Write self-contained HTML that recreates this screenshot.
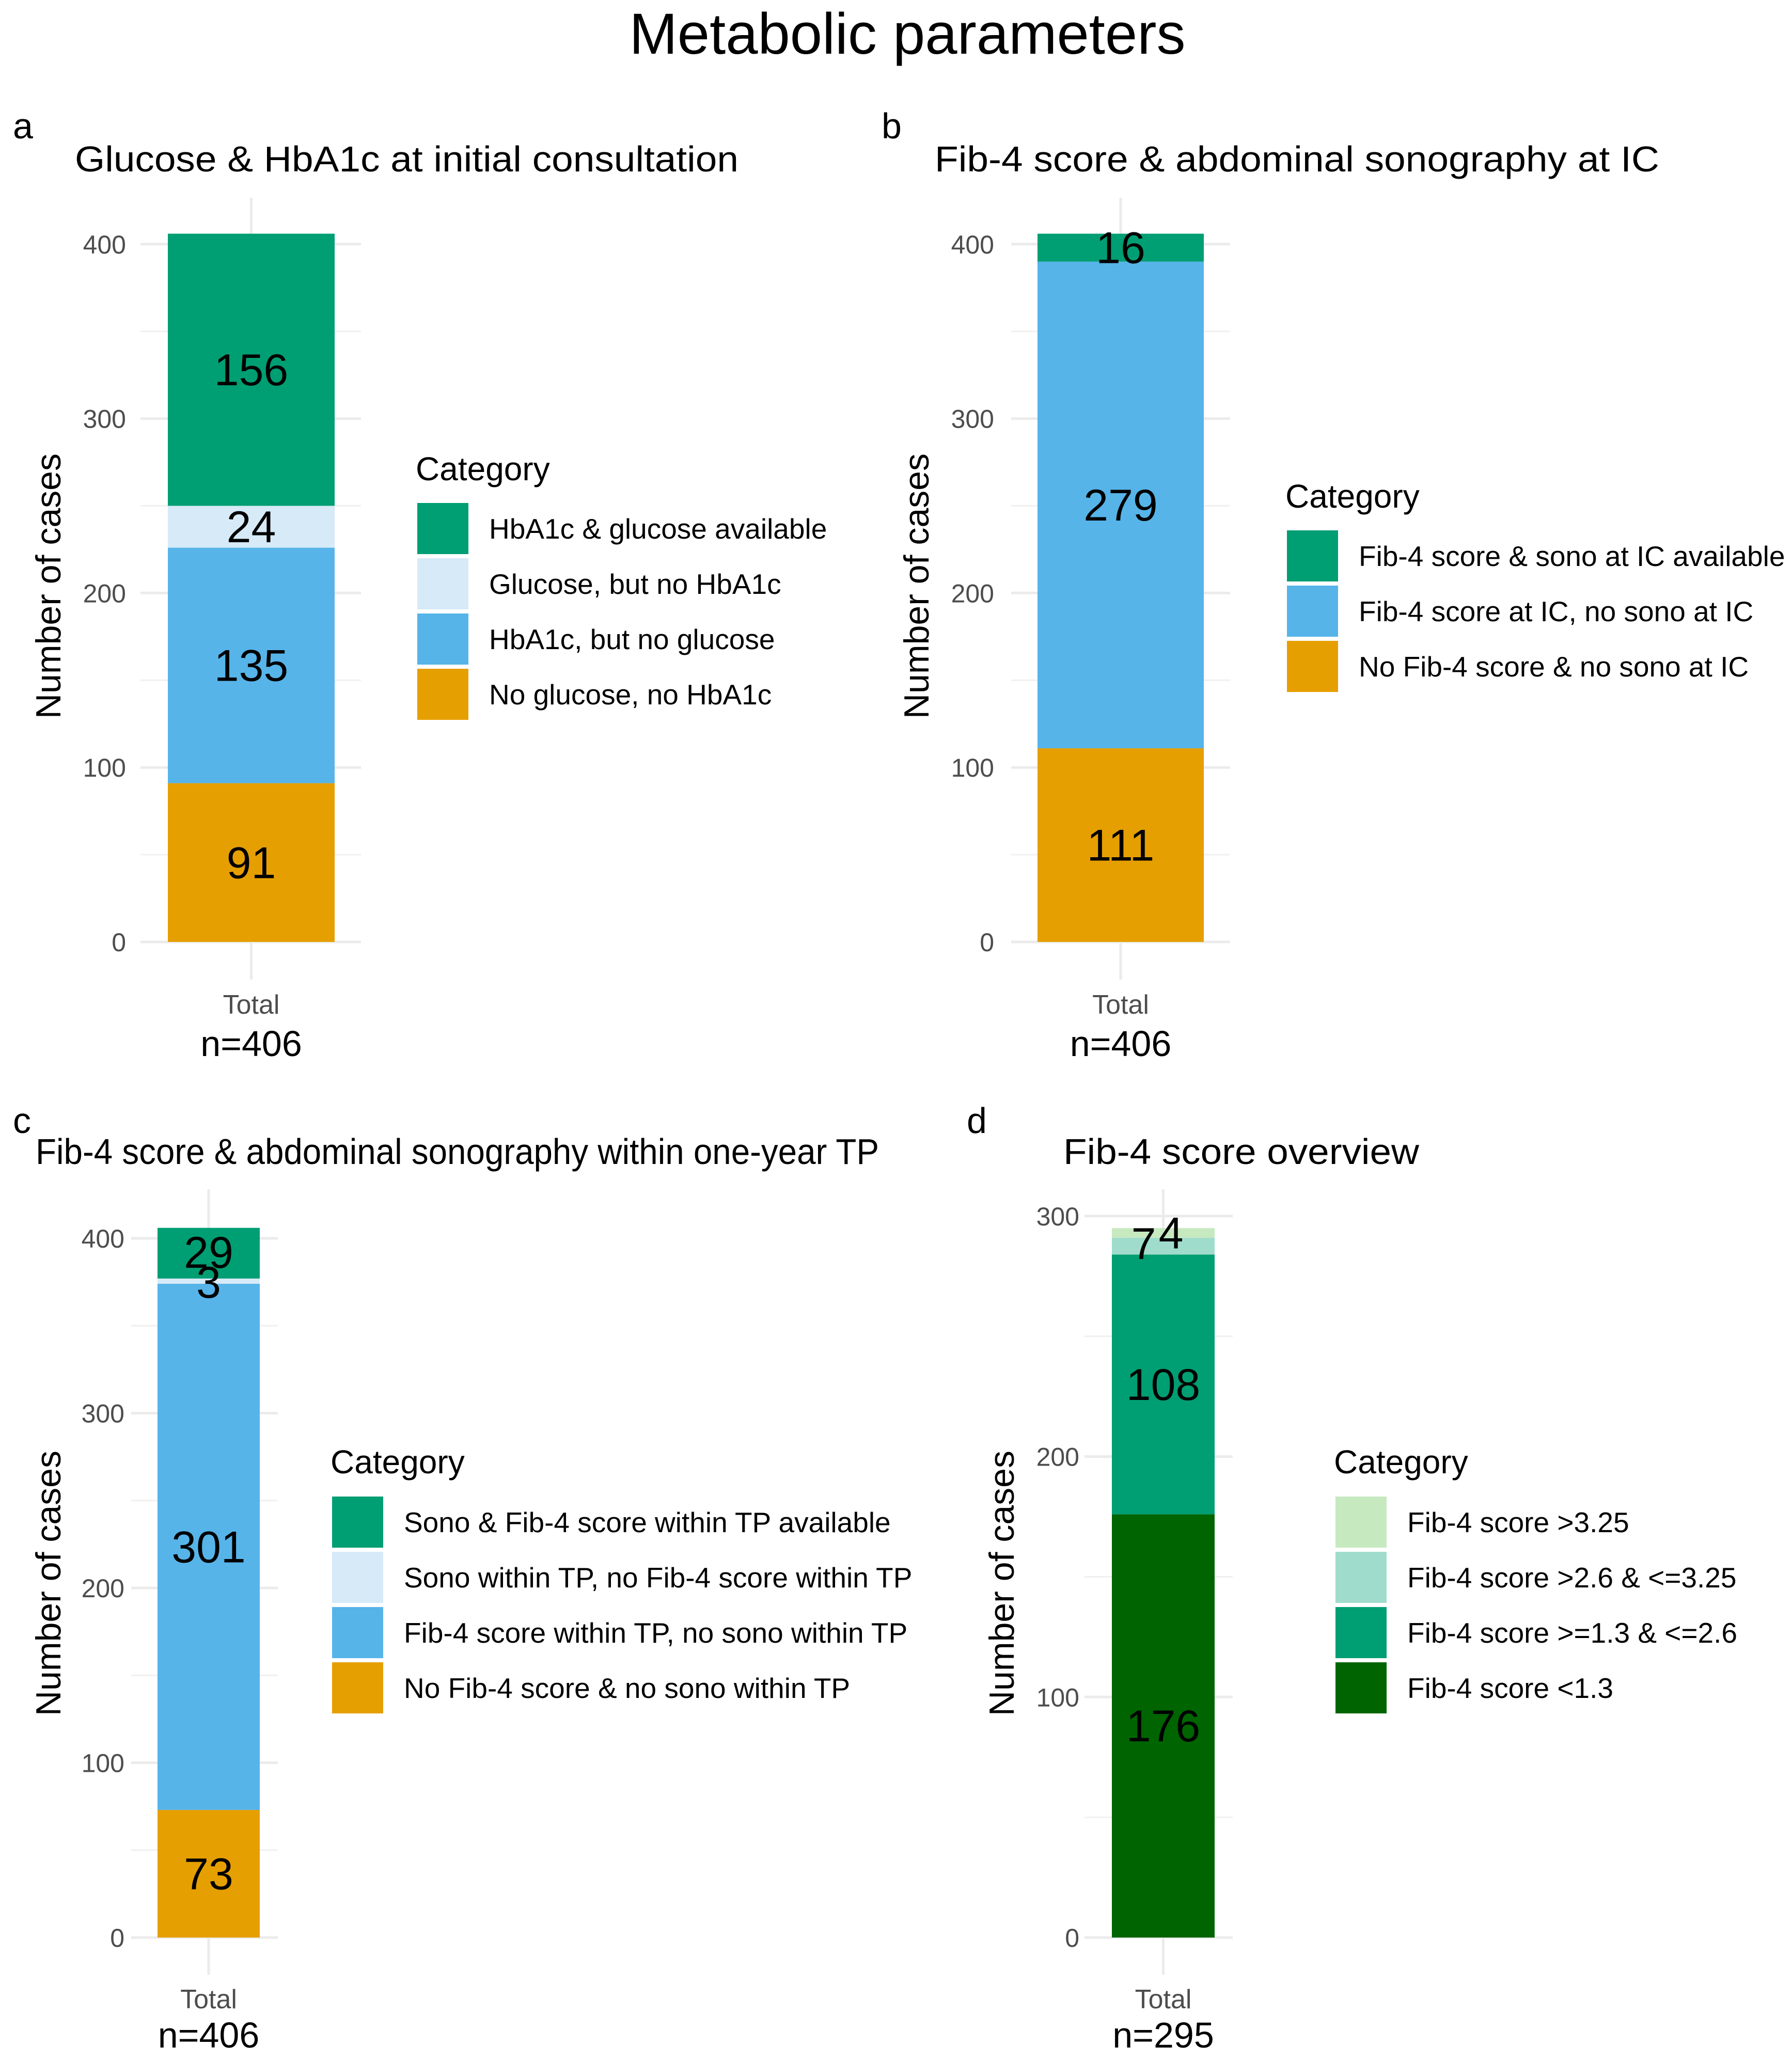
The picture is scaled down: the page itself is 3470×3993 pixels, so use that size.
<!DOCTYPE html>
<html><head><meta charset="utf-8"><style>
html,body{margin:0;padding:0;background:#fff}
svg{display:block;font-family:"Liberation Sans",sans-serif}
</style></head><body>
<svg id="fig" width="3470" height="3993" viewBox="0 0 3470 3993" xmlns="http://www.w3.org/2000/svg">
<rect width="3470" height="3993" fill="#fff"/>
<text x="1757" y="104" font-size="112" text-anchor="middle" textLength="1077">Metabolic parameters</text>
</svg>
<script>
// Panel a data
const aCats = ["No glucose, no HbA1c","HbA1c, but no glucose","Glucose, but no HbA1c","HbA1c & glucose available"];
const aVals = [91,135,24,156];
const aCols = ["#E69F00","#56B4E9","#D6EAF8","#009E73"];
// Panel b data
const bCats = ["No Fib-4 score & no sono at IC","Fib-4 score at IC, no sono at IC","Fib-4 score & sono at IC available"];
const bVals = [111,279,16];
const bCols = ["#E69F00","#56B4E9","#009E73"];
// Panel c data
const cCats = ["No Fib-4 score & no sono within TP","Fib-4 score within TP, no sono within TP","Sono within TP, no Fib-4 score within TP","Sono & Fib-4 score within TP available"];
const cVals = [73,301,3,29];
const cCols = ["#E69F00","#56B4E9","#D6EAF8","#009E73"];
// Panel d data
const dCats = ["Fib-4 score <1.3","Fib-4 score >=1.3 & <=2.6","Fib-4 score >2.6 & <=3.25","Fib-4 score >3.25"];
const dVals = [176,108,7,4];
const dCols = ["#006400","#009E73","#A0DCCB","#C7E9C0"];
const abTicks = [0,100,200,300,400];
const cTicks = [0,100,200,300,400];
const dTicks = [0,100,200,300];

const NS="http://www.w3.org/2000/svg";
const svg=document.getElementById('fig');
function mk(tag,attrs,parent){const e=document.createElementNS(NS,tag);for(const k in attrs)e.setAttribute(k,attrs[k]);(parent||svg).appendChild(e);return e;}

function panel(p){
  const g=mk('g',{});
  
  
  const y=v=>p.y0-(v-0)*p.ppu;
  const cx=(p.barL+p.barR)/2;
  for(let i=0;i<p.ticks.length;i++){
    const t=p.ticks[i]+50;
    if(t<=p.gridMax){const l=mk('line',{x1:p.gL,x2:p.gR,y1:y(t),y2:y(t),stroke:'#f0f0f0','stroke-width':3},g);
      }
  }
  for(const t of p.ticks){
    const l=mk('line',{x1:p.gL,x2:p.gR,y1:y(t),y2:y(t),stroke:'#ebebeb','stroke-width':5},g);
    
    const tx=mk('text',{x:p.tickX,y:y(t)+18,'font-size':50,fill:'#4d4d4d','text-anchor':'end'},g);
    tx.textContent=t;
    
  }
  const vl=mk('line',{x1:cx,x2:cx,y1:p.vTop,y2:p.vBot,stroke:'#ebebeb','stroke-width':5},g);
  
  let cum=0;
  for(let i=0;i<p.vals.length;i++){
    const v=p.vals[i];
    const r=mk('rect',{x:p.barL,width:p.barR-p.barL,y:y(cum+v),height:v*p.ppu,fill:p.cols[i]},g);
    
    cum+=v;
  }
  cum=0;
  for(let i=0;i<p.vals.length;i++){
    const v=p.vals[i];
    let ly=y(cum+v/2)+30;
    let lx=cx;
    if(p.offs&&p.offs[i]){lx+=p.offs[i][0];ly+=p.offs[i][1];}
    const t=mk('text',{x:lx,y:ly,'font-size':86,'text-anchor':'middle',fill:'#000'},g);
    t.textContent=v;
    
    cum+=v;
  }
  const yt=mk('text',{x:0,y:0,'font-size':68,'text-anchor':'middle',transform:`translate(${p.ytX},${p.ytY}) rotate(-90)`},g);
  yt.textContent='Number of cases';
  
  const tt=mk('text',{x:cx,y:p.totY,'font-size':52,fill:'#4d4d4d','text-anchor':'middle'},g);
  tt.textContent='Total';
  
  const nt=mk('text',{x:cx,y:p.nY,'font-size':70,'text-anchor':'middle'},g);
  nt.textContent='n='+p.vals.reduce((s,v)=>s+v,0);
  
  const ti=mk('text',{x:p.titleX,y:p.titleY,'font-size':70,textLength:p.titleW,lengthAdjust:'spacingAndGlyphs'},g);
  ti.textContent=p.title;
  
  const lb=mk('text',{x:p.lblX,y:p.lblY,'font-size':70},g);
  lb.textContent=p.id;
  
  const lc=mk('text',{x:p.legX,y:p.legY,'font-size':64},g);
  lc.textContent='Category';
  
  const n=p.cats.length;
  for(let j=0;j<n;j++){
    const i=n-1-j;
    const ky=p.keyY+j*107;
    const k=mk('rect',{x:p.legX+3,y:ky,width:99,height:99,fill:p.cols[i]},g);
    
    const t=mk('text',{x:p.legX+142,y:ky+69,'font-size':55},g);
    t.textContent=p.cats[i];
    
  }
}
panel({id:'a',cats:aCats,vals:aVals,cols:aCols,ticks:abTicks,gridMax:400,y0:1824,ppu:3.378,gL:272,gR:699,barL:325,barR:648,tickX:244,vTop:383,vBot:1897,ytX:117,ytY:1135,totY:1963,nY:2045,title:'Glucose & HbA1c at initial consultation',titleX:145,titleY:332,titleW:1285,lblX:25,lblY:268,legX:805,legY:930,keyY:974});
panel({id:'b',cats:bCats,vals:bVals,cols:bCols,ticks:abTicks,gridMax:400,y0:1824,ppu:3.378,gL:1958,gR:2382,barL:2009,barR:2331,tickX:1925,vTop:383,vBot:1897,ytX:1798,ytY:1135,totY:1963,nY:2045,title:'Fib-4 score & abdominal sonography at IC',titleX:1810,titleY:332,titleW:1403,lblX:1707,lblY:268,legX:2489,legY:983,keyY:1027});
panel({id:'c',cats:cCats,vals:cVals,cols:cCols,ticks:cTicks,gridMax:400,y0:3752,ppu:3.385,gL:254,gR:538,barL:305,barR:503,tickX:241,vTop:2303,vBot:3824,ytX:117,ytY:3066,totY:3889,nY:3965,title:'Fib-4 score & abdominal sonography within one-year TP',titleX:69,titleY:2254,titleW:1633,lblX:25,lblY:2194,legX:640,legY:2853,keyY:2898,offs:{2:[0,2],3:[0,-2]}});
panel({id:'d',cats:dCats,vals:dVals,cols:dCols,ticks:dTicks,gridMax:300,y0:3752,ppu:4.657,gL:2100,gR:2387,barL:2153,barR:2352,tickX:2090,vTop:2303,vBot:3824,ytX:1963,ytY:3066,totY:3889,nY:3965,title:'Fib-4 score overview',titleX:2059,titleY:2254,titleW:689,lblX:1872,lblY:2194,legX:2583,legY:2853,keyY:2898,offs:{2:[-38,-5],3:[15,0]}});
</script>
</body></html>
